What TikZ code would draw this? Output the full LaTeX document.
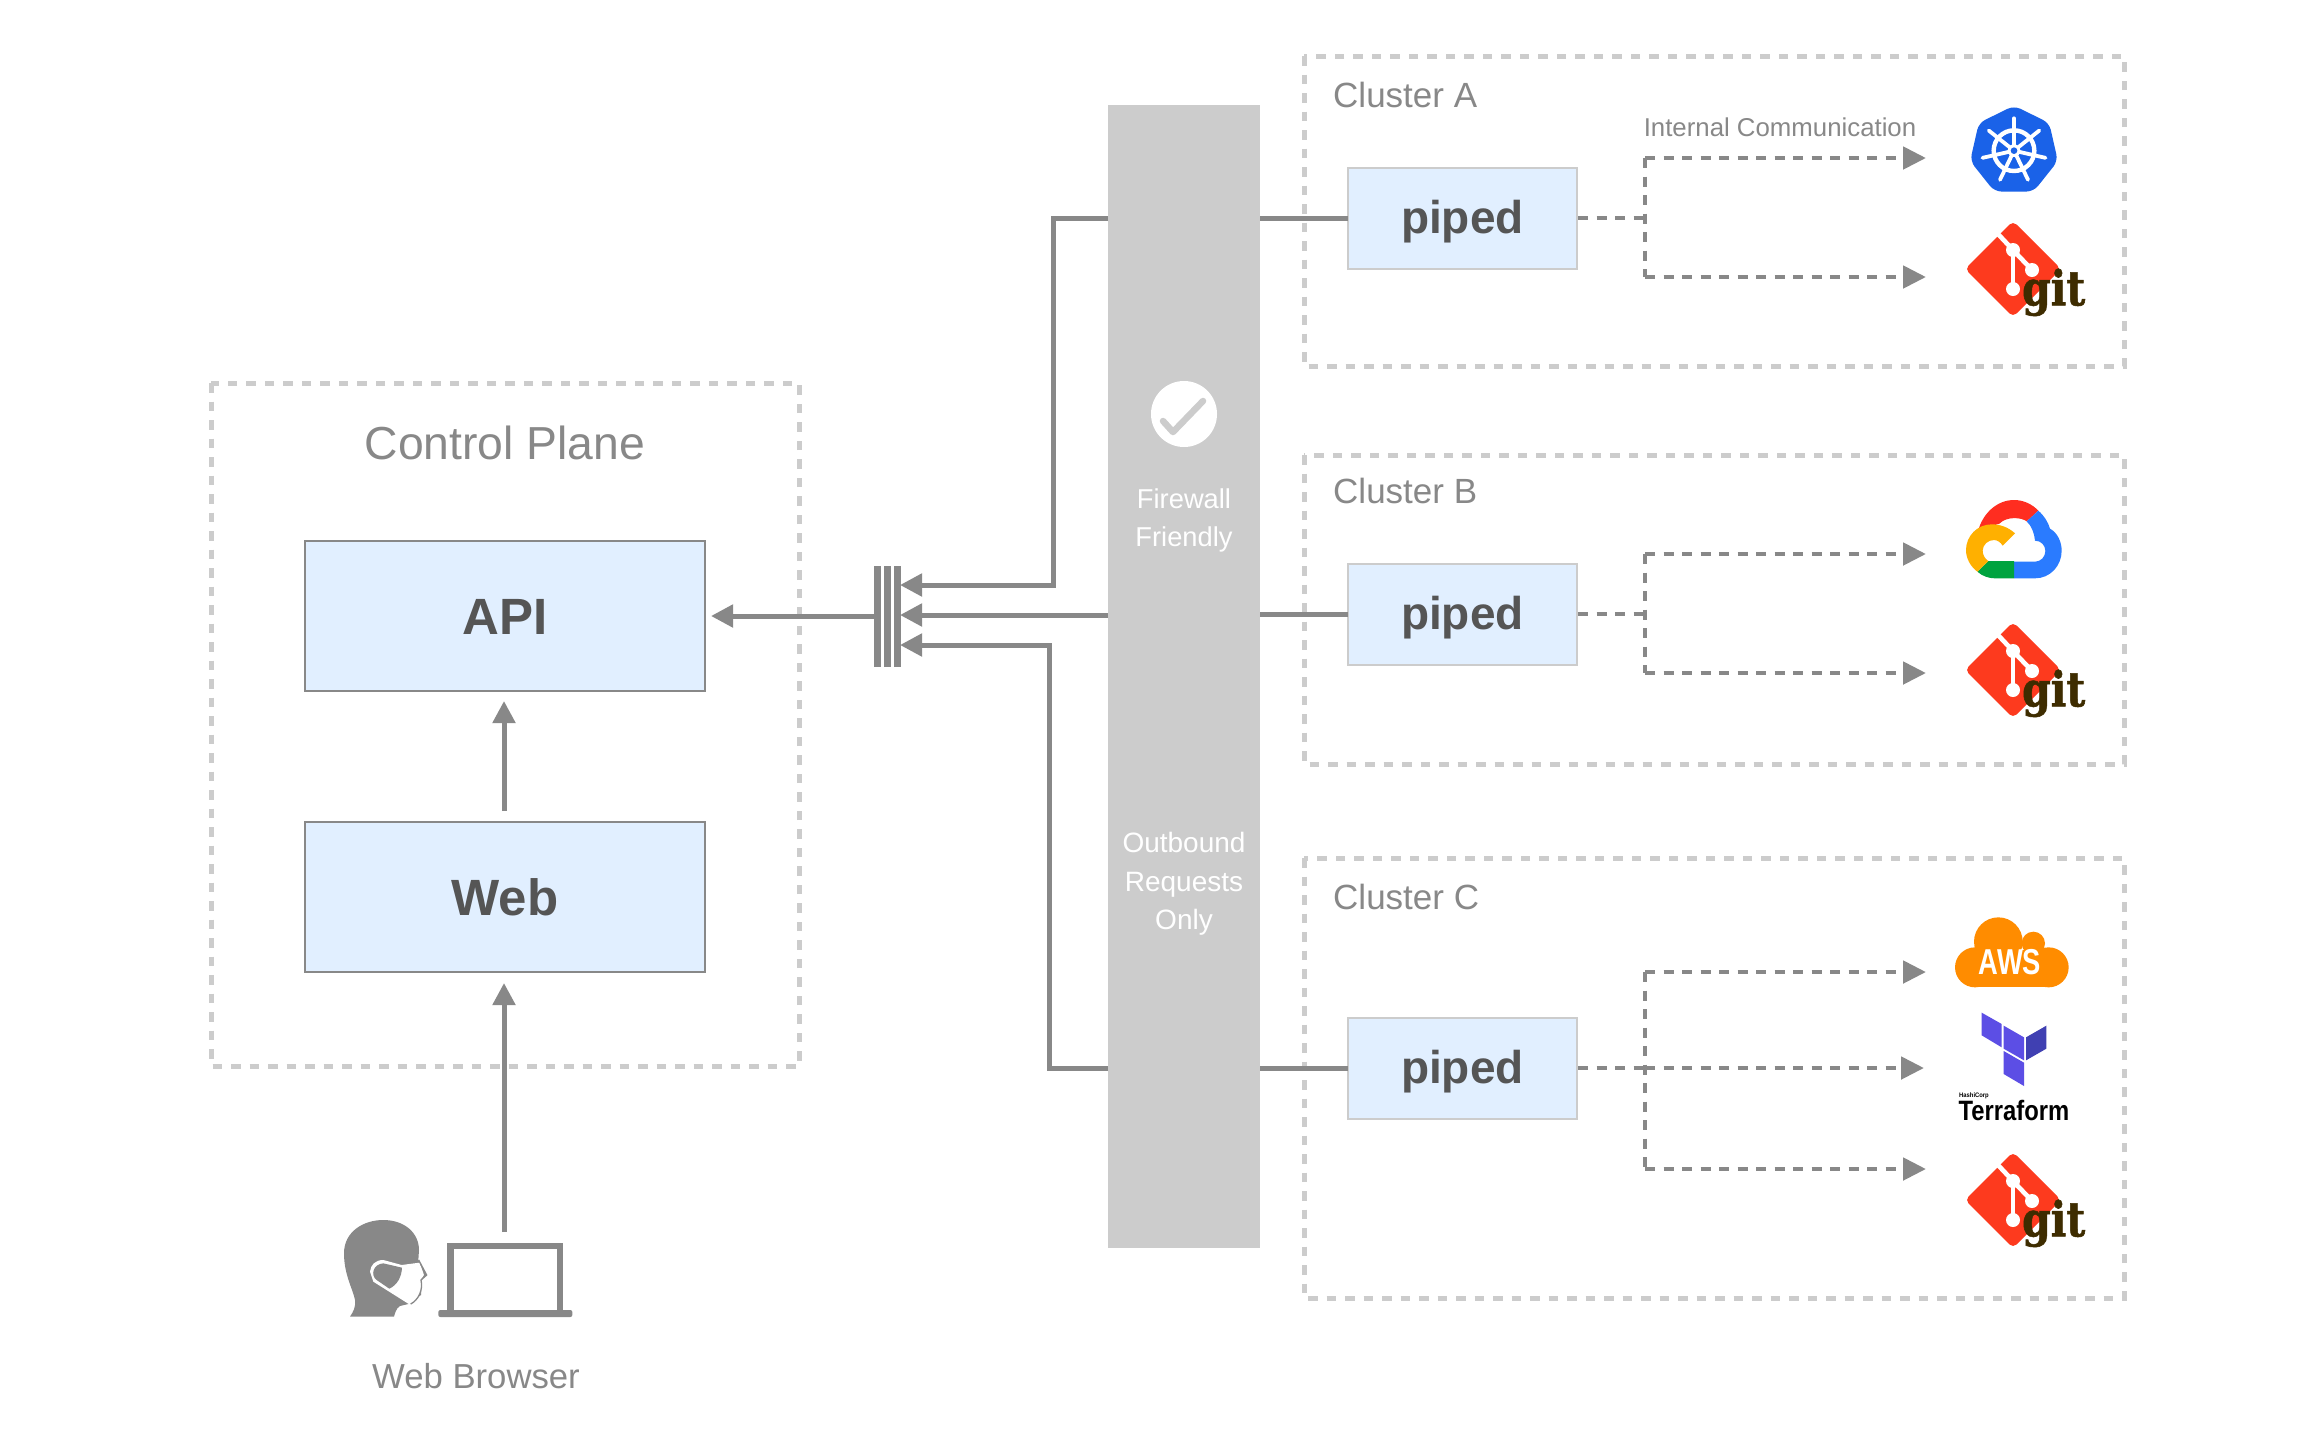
\documentclass[tikz,border=0pt]{standalone}
\usepackage{fontspec}
\setmainfont{Liberation Sans}
\newfontfamily\gitfont[BoldFeatures={FakeBold=1.2}]{DejaVu Serif}
\usetikzlibrary{arrows.meta}
\definecolor{gr}{HTML}{888888}
\definecolor{lg}{HTML}{CCCCCC}
\definecolor{boxfill}{HTML}{E1EFFF}
\definecolor{darktxt}{HTML}{555555}
\definecolor{gitred}{HTML}{FD3A1E}
\definecolor{gitbrown}{HTML}{3E2C00}
\definecolor{kblue}{HTML}{1A62E8}
\definecolor{awsor}{HTML}{FF8C00}
\definecolor{tfa}{HTML}{5C4EE5}
\definecolor{tfb}{HTML}{4040B2}
\definecolor{gcr}{HTML}{FF2D20}
\definecolor{gcb}{HTML}{2A7BFF}
\definecolor{gcg}{HTML}{00A33F}
\definecolor{gcy}{HTML}{FFB000}
\newcommand{\fsz}[1]{\fontsize{#1}{#1}\selectfont}
\tikzset{
  region/.style={draw=lg,line width=5pt,dash pattern=on 9.5pt off 9pt},
  pipedbox/.style={draw=lg,fill=boxfill,line width=2pt,inner sep=0pt,outer sep=0pt,minimum width=229.5pt,minimum height=101pt,text height=33.5pt,text depth=3.5pt,text=darktxt,font=\fsz{46}\bfseries},
  mainbox/.style={draw=gr,fill=boxfill,line width=2pt,inner sep=0pt,outer sep=0pt,minimum width=400pt,minimum height=150pt,text height=36pt,text depth=0pt,text=darktxt,font=\fsz{51}\bfseries},
  conn/.style={draw=gr,line width=5pt},
  arr/.style={conn,-{Triangle[length=22pt,width=22pt]}},
  dot/.style={draw=gr,line width=4.9pt,dash pattern=on 10pt off 8.5pt},
  dotarr/.style={dot,-{Triangle[length=23pt,width=22pt,color=gr]}},
  lab/.style={text=gr,inner sep=0pt},
  whitelab/.style={text=white,inner sep=0pt,anchor=base},
  zoomed/.style={x=0.33333pt,y=-0.33333pt},
}
\newcommand{\gitlogo}[2]{%
  \begin{scope}[shift={(#1)},zoomed]
    \fill[gitred,rounded corners=5pt] (0,-144) -- (144,0) -- (0,144) -- (-144,0) -- cycle;
    \draw[white,line width=4.6pt] (-45,-105) -- (0,-57) -- (57,3);
    \draw[white,line width=4.6pt] (0,-57) -- (0,60);
    \fill[white] (0,-57) circle (21) (57,3) circle (21) (0,60) circle (21);
    \node[inner sep=0pt,text=gitbrown] (#2) at (122,70) {\scalebox{1}[1.18]{\gitfont\fsz{41}\bfseries git}};
  \end{scope}}
\begin{document}
\begin{tikzpicture}[x=1pt,y=-1pt]
\useasboundingbox (0,0) rectangle (2316,1436);
\fill[white] (0,0) rectangle (2316,1436);
% regions
\draw[region] (211,383) rectangle (799,1066);
\draw[region] (1304,56) rectangle (2124,366);
\draw[region] (1304,455) rectangle (2124,764);
\draw[region] (1304,858) rectangle (2124,1298);
% firewall bar
\node[fill=lg,inner sep=0pt,outer sep=0pt,minimum width=152pt,minimum height=1143pt] (bar) at (1184,676.5) {};
\node[fill=white,circle,inner sep=0pt,minimum size=66pt] (okc) at (1184,414) {};
\draw[lg,line width=6.5pt,line cap=round,line join=round] (1163,421) -- (1173,432) -- (1203,401);
\node[whitelab,font=\fsz{27.3}] (fw1) at (1184,508) {Firewall};
\node[whitelab,font=\fsz{27.3}] (fw2) at (1184,546.5) {Friendly};
\node[whitelab,font=\fsz{28}] (ob1) at (1184,852) {Outbound};
\node[whitelab,font=\fsz{28}] (ob2) at (1184,891) {Requests};
\node[whitelab,font=\fsz{28}] (ob3) at (1184,929) {Only};
% boxes
\node[lab,font=\fsz{46.3}] (cp) at (505,443) {Control Plane};
\node[mainbox] (api) at (505,616) {API};
\node[mainbox] (web) at (505,897) {Web};
\node[pipedbox] (pa) at (1462.4,218) {piped};
\node[pipedbox] (pb) at (1462.4,614) {piped};
\node[pipedbox] (pc) at (1462.4,1068) {piped};
\node[lab,font=\fsz{35},anchor=west] (ca) at (1333,95) {Cluster A};
\node[lab,font=\fsz{35},anchor=west] (cb) at (1333,491) {Cluster B};
\node[lab,font=\fsz{35},anchor=west] (cc) at (1333,897) {Cluster C};
\node[lab,font=\fsz{25.8}] (ic) at (1780,127) {Internal Communication};
% bus
\foreach \n/\x in {1/877.5,2/887.5,3/897.5}
  \node[fill=gr,inner sep=0pt,outer sep=0pt,minimum width=7pt,minimum height=101pt] (bus\n) at (\x,616.5) {};
% solid connectors
\coordinate (tipa) at (900,585);
\coordinate (tipb) at (900,615);
\coordinate (tipc) at (900,645);
\coordinate (apiin) at (711,616);
\draw[arr] (bar.west |- pa) -| (1053,585) -- (tipa);
\draw[arr] (bar.west |- tipb) -- (tipb);
\draw[arr] (bar.west |- pc) -| (1049,645) -- (tipc);
\draw[conn] (bar.east |- pa) -- (pa.west);
\draw[conn] (bar.east |- pb) -- (pb.west);
\draw[conn] (bar.east |- pc) -- (pc.west);
\draw[arr] (bus1.west |- apiin) -- (apiin);
\coordinate (webtop) at (504,701);
\coordinate (webst) at (504,811);
\draw[arr] (webst) -- (webtop);
\coordinate (brst) at (504,1232);
\coordinate (brtip) at (504,983);
\draw[arr] (brst) -- (brtip);
% dashed connectors
\foreach \p/\ya/\yb in {pa/158/277, pb/554/673}{
  \draw[dot] (\p.east) ++(1,0) -- (1645,0 |- \p.east);
  \draw[dotarr] (1645,\ya) -- (1926,\ya);
  \draw[dotarr] (1645,\yb) -- (1926,\yb);
  \draw[dot] (1645,\ya) -- (1645,\yb);
}
\draw[dot] (pc.east) ++(1,0) -- (1645,1068);
\draw[dotarr] (1645,1068) -- (1924,1068);
\draw[dotarr] (1645,972) -- (1926,972);
\draw[dotarr] (1645,1169) -- (1926,1169);
\draw[dot] (1645,972) -- (1645,1169);
% kubernetes
\begin{scope}[shift={(1900,80)},zoomed]
  \fill[kblue,rounded corners=7pt] (342,77)
    -- ({342+135*sin(360/7)},{213-135*cos(360/7)})
    -- ({342+135*sin(720/7)},{213-135*cos(720/7)})
    -- ({342+135*sin(1080/7)},{213-135*cos(1080/7)})
    -- ({342-135*sin(1080/7)},{213-135*cos(1080/7)})
    -- ({342-135*sin(720/7)},{213-135*cos(720/7)})
    -- ({342-135*sin(360/7)},{213-135*cos(360/7)}) -- cycle;
  \draw[white,line width=4.4pt] (342,212) circle (61);
  \foreach \k in {0,...,6}
    \draw[white,line width=3.8pt,line cap=round]
      (342,212) -- ({342+97*sin(\k*360/7)},{212-97*cos(\k*360/7)});
  \fill[white] (342,212) circle (19);
  \fill[kblue] (342,212) circle (10);
\end{scope}
% git logos
\gitlogo{2013,269}{gita}
\gitlogo{2013,670}{gitb}
\gitlogo{2013,1200}{gitc}
% google cloud
\begin{scope}[shift={(1900,480)},zoomed]
  \fill[gcr] (235,150) .. controls (250,98) and (292,60) .. (342,60) .. controls (370,60) and (396,72) .. (415,92) -- (380,124) .. controls (365,112) and (320,108) .. (298,131) -- cycle;
  \fill[gcb] (415,92) .. controls (433,108) and (445,128) .. (450,146) .. controls (472,158) and (485,185) .. (485,212) .. controls (485,258) and (450,295) .. (405,295) -- (342,295) -- (342,245) -- (405,245) .. controls (423,245) and (436,230) .. (436,213) .. controls (436,196) and (423,182) .. (405,182) .. controls (403,160) and (395,138) .. (380,124) -- cycle;
  \fill[gcg] (232,275) -- (265,243) -- (342,243) -- (342,295) -- (285,295) .. controls (265,295) and (247,288) .. (232,275) -- cycle;
  \fill[gcy] (345,160) .. controls (325,142) and (302,133) .. (275,133) .. controls (232,133) and (198,168) .. (198,210) .. controls (198,236) and (212,260) .. (232,275) -- (265,243) .. controls (254,236) and (248,224) .. (248,212) .. controls (248,194) and (264,180) .. (282,180) .. controls (292,180) and (302,187) .. (308,197) -- cycle;
\end{scope}
% aws
\begin{scope}[shift={(1900,900)},zoomed]
  \fill[awsor] (225,202) circle (60);
  \fill[awsor] (446,202) circle (60);
  \fill[awsor] (295,125) circle (73);
  \fill[awsor] (400,130) circle (35);
  \fill[awsor] (225,150) rectangle (446,262);
  \node[inner sep=0pt,text=white] (aws) at (330,187) {\fsz{36}\bfseries\scalebox{0.76}[1]{AWS}};
  % terraform
  \fill[tfa] (245,338) -- (305,372) -- (305,442) -- (245,406) -- cycle;
  \fill[tfa] (311,377) -- (372,412) -- (372,481) -- (311,446) -- cycle;
  \fill[tfb] (378,412) -- (439,377) -- (439,446) -- (378,481) -- cycle;
  \fill[tfa] (311,453) -- (372,488) -- (372,558) -- (311,522) -- cycle;
  \node[inner sep=0pt,anchor=west,font=\bfseries\fsz{6.5}] (hc) at (177,586) {\scalebox{0.9}[1]{HashiCorp}};
  \node[inner sep=0pt,font=\bfseries\fsz{28}] (tf) at (342,632) {\scalebox{0.85}[1]{Terraform}};
\end{scope}
% user
\begin{scope}[shift={(320,1200)},zoomed]
  \fill[gr] (90,350) .. controls (100,335) and (108,320) .. (105,300) .. controls (100,270) and (72,225) .. (72,160) .. controls (72,95) and (130,60) .. (190,60) .. controls (255,60) and (297,100) .. (297,150) -- (295,180) -- (320,225) -- (303,240) -- (303,285) -- (265,312) -- (240,318) .. controls (228,325) and (225,340) .. (222,350) -- cycle;
  \fill[white] (150,215) .. controls (152,195) and (165,180) .. (190,180) -- (245,195) -- (298,188) -- (305,205) -- (312,225) -- (303,238) -- (305,265) .. controls (300,290) and (285,305) .. (268,313) -- (160,245) -- cycle;
  \fill[gr] (246,203) .. controls (245,230) and (232,255) .. (208,266) -- (170,240) .. controls (150,225) and (160,192) .. (190,190) -- cycle;
  \draw[gr,line width=1.3pt] (296,180) -- (320,225) -- (303,240) .. controls (310,270) and (295,300) .. (272,312);
  \fill[gr] (382,128) rectangle (728,335);
  \fill[white] (402,147) rectangle (712,330);
  \fill[gr,rounded corners=2pt] (355,330) rectangle (757,351);
\end{scope}
\node[lab,font=\fsz{34.7}] (wb) at (476,1376) {Web Browser};
\end{tikzpicture}
\end{document}
